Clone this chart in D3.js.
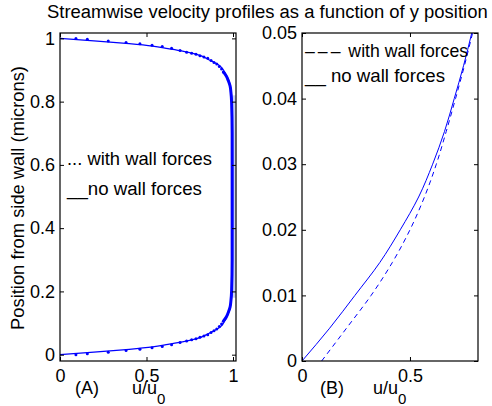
<!DOCTYPE html>
<html>
<head>
<meta charset="utf-8">
<script src="https://cdn.jsdelivr.net/npm/d3@7"></script>
<style>
  body { margin: 0; background: #fff; }
  svg text { font-family: "Liberation Sans", Arial, sans-serif; font-size: 18px; fill: #000; }
  .axis path { display: none; }
  .axis line { stroke: #000; stroke-width: 1; }
</style>
</head>
<body>
<script>
//==========================================================================//
//  DATA
//==========================================================================//

    // panel A : no wall forces, full channel width (position in microns)
    var noWallU = [0, 0.196, 0.400, 0.535, 0.624, 0.708, 0.786, 0.87, 0.925, 0.96, 0.98, 0.99, 0.995, 0.997, 0.998,
                   0.997, 0.995, 0.99, 0.98, 0.96, 0.925, 0.87, 0.786, 0.708, 0.624, 0.535, 0.400, 0.196, 0];
    var noWallY = [0, 0.0078, 0.0169, 0.0245, 0.0324, 0.0403, 0.05, 0.07, 0.087, 0.115, 0.14, 0.17, 0.21, 0.3, 0.5,
                   0.7, 0.79, 0.83, 0.86, 0.885, 0.913, 0.93, 0.95, 0.9597, 0.9676, 0.9755, 0.9831, 0.9922, 1];

    // panel A : with wall forces, sample points near each wall (drawn as dots)
    var wallDotU = [0.092, 0.158, 0.279, 0.382, 0.462, 0.532, 0.591, 0.645, 0.694, 0.732, 0.761, 0.786, 0.809,
                    0.832, 0.854, 0.873, 0.890, 0.906, 0.921, 0.934, 0.944,
                    0.944, 0.934, 0.921, 0.906, 0.890, 0.873, 0.854, 0.832, 0.809, 0.786, 0.761, 0.732, 0.694,
                    0.645, 0.591, 0.532, 0.462, 0.382, 0.279, 0.158, 0.092];
    var wallDotY = [0, 0.0028, 0.0079, 0.0133, 0.0173, 0.0215, 0.026, 0.031, 0.0385, 0.0435, 0.047, 0.050, 0.055,
                    0.059, 0.063, 0.070, 0.076, 0.081, 0.089, 0.097, 0.106,
                    0.894, 0.903, 0.911, 0.919, 0.924, 0.930, 0.937, 0.941, 0.945, 0.950, 0.953, 0.9565, 0.9615,
                    0.969, 0.974, 0.9785, 0.9827, 0.9867, 0.9921, 0.9972, 1];

    // panel A : with wall forces, middle of the channel where the dots merge
    var wallMidU = [0.944, 0.960, 0.973, 0.983, 0.988, 0.992, 0.995, 0.995, 0.992, 0.988, 0.983, 0.973, 0.960, 0.944];
    var wallMidY = [0.106, 0.118, 0.134, 0.150, 0.171, 0.203, 0.3, 0.7, 0.797, 0.829, 0.850, 0.866, 0.882, 0.894];
    var bandU = [1.008, 1.008];
    var bandY = [0.18, 0.82];

    // panel B : close-up near the wall
    var zoomY       = [0, 0.005, 0.01, 0.015, 0.02, 0.025, 0.03, 0.035, 0.04, 0.045, 0.05];
    var zoomNoWallU = [0, 0.128, 0.245, 0.36, 0.455, 0.54, 0.605, 0.66, 0.705, 0.748, 0.786];
    var zoomWallU   = [0.091, 0.206, 0.32, 0.418, 0.50, 0.567, 0.622, 0.668, 0.711, 0.752, 0.79];

    // ticks
    var ticksAx = [0, 0.5, 1];
    var ticksAy = [0, 0.2, 0.4, 0.6, 0.8, 1];
    var ticksBx = [0, 0.5];
    var ticksBy = [0, 0.01, 0.02, 0.03, 0.04, 0.05];

//==========================================================================//
//  SETUP
//==========================================================================//

    var W = 492, H = 406;
    var blue = "#0000ff";

    var svg = d3.select("body")
        .append("svg")
        .attr("width", W)
        .attr("height", H);

    // panel boxes
    var boxA = {left: 60, right: 236, top: 33, bottom: 361};
    var boxB = {left: 302, right: 478, top: 33, bottom: 361};

    var xA = d3.scaleLinear().domain([0, 1.0173]).range([boxA.left, boxA.right]);
    var yA = d3.scaleLinear().domain([-0.02, 1.017]).range([boxA.bottom, boxA.top]);
    var xB = d3.scaleLinear().domain([0, 0.815]).range([boxB.left, boxB.right]);
    var yB = d3.scaleLinear().domain([0, 0.05]).range([boxB.bottom, boxB.top]);

    function fmt(d) { return d === 0 ? "0" : String(d); }

    function drawAxes(box, x, y, xt, yt) {
        // bottom, with labels
        svg.append("g").attr("class", "axis")
            .attr("transform", "translate(0," + box.bottom + ")")
            .call(d3.axisBottom(x).tickValues(xt).tickFormat(fmt).tickSizeInner(-4).tickSizeOuter(0).tickPadding(8));
        // top, no labels
        svg.append("g").attr("class", "axis")
            .attr("transform", "translate(0," + box.top + ")")
            .call(d3.axisTop(x).tickValues(xt).tickFormat("").tickSizeInner(-4).tickSizeOuter(0));
        // left, with labels
        svg.append("g").attr("class", "axis")
            .attr("transform", "translate(" + box.left + ",0)")
            .call(d3.axisLeft(y).tickValues(yt).tickFormat(fmt).tickSizeInner(-4).tickSizeOuter(0).tickPadding(5));
        // right, no labels
        svg.append("g").attr("class", "axis")
            .attr("transform", "translate(" + box.right + ",0)")
            .call(d3.axisRight(y).tickValues(yt).tickFormat("").tickSizeInner(-4).tickSizeOuter(0));

        svg.append("rect")
            .attr("x", box.left).attr("y", box.top)
            .attr("width", box.right - box.left).attr("height", box.bottom - box.top)
            .attr("fill", "none").attr("stroke", "#000").attr("stroke-width", 1.2);

        svg.selectAll(".axis text").style("font-size", "18px");
    }

    function pairs(us, ys) {
        return us.map(function(u, i) { return [u, ys[i]]; });
    }

    // scale a text's font so that it spans the width seen in the figure
    function fitWidth(sel, target) {
        var w = sel.node().getComputedTextLength();
        if (w > 0) sel.style("font-size", (18 * target / w).toFixed(2) + "px");
        return sel;
    }

//==========================================================================//
//  PANEL A
//==========================================================================//

    var gA = svg.append("g");

    var lineA = d3.line()
        .x(function(d) { return xA(d[0]); })
        .y(function(d) { return yA(d[1]); })
        .curve(d3.curveMonotoneY);

    gA.append("path")
        .datum(pairs(bandU, bandY))
        .attr("d", lineA)
        .attr("fill", "none")
        .attr("stroke", "#c6cff4")
        .attr("stroke-width", 2.5);

    gA.append("path")
        .datum(pairs(wallMidU, wallMidY))
        .attr("d", lineA)
        .attr("fill", "none")
        .attr("stroke", blue)
        .attr("stroke-width", 3);

    gA.append("path")
        .datum(pairs(noWallU, noWallY))
        .attr("d", lineA)
        .attr("fill", "none")
        .attr("stroke", blue)
        .attr("stroke-width", 1.2);

    gA.selectAll("circle")
        .data(pairs(wallDotU, wallDotY))
        .join("circle")
            .attr("cx", function(d) { return xA(d[0]); })
            .attr("cy", function(d) { return yA(d[1]); })
            .attr("r", 1.5)
            .attr("fill", blue);

    drawAxes(boxA, xA, yA, ticksAx, ticksAy);

    fitWidth(svg.append("text").attr("x", 67).attr("y", 165).text("... with wall forces"), 145);
    fitWidth(svg.append("text").attr("x", 67).attr("y", 195).text("__no wall forces"), 135);

//==========================================================================//
//  PANEL B
//==========================================================================//

    var gB = svg.append("g");
    gB.append("clipPath").attr("id", "clipB")
        .append("rect")
        .attr("x", boxB.left).attr("y", boxB.top)
        .attr("width", boxB.right - boxB.left).attr("height", boxB.bottom - boxB.top);

    var lineB = d3.line()
        .x(function(d) { return xB(d[0]); })
        .y(function(d) { return yB(d[1]); })
        .curve(d3.curveMonotoneY);

    gB.append("path")
        .datum(pairs(zoomNoWallU, zoomY))
        .attr("d", lineB)
        .attr("clip-path", "url(#clipB)")
        .attr("fill", "none")
        .attr("stroke", blue)
        .attr("stroke-width", 1);

    gB.append("path")
        .datum(pairs(zoomWallU, zoomY))
        .attr("d", lineB)
        .attr("clip-path", "url(#clipB)")
        .attr("fill", "none")
        .attr("stroke", blue)
        .attr("stroke-width", 1)
        .attr("stroke-dasharray", "5,4");

    drawAxes(boxB, xB, yB, ticksBx, ticksBy);

    var leg1 = svg.append("text").attr("x", 305).attr("y", 57);
    leg1.append("tspan").attr("letter-spacing", "3px").text("–––");
    leg1.append("tspan").text(" with wall forces");
    fitWidth(leg1, 163);
    fitWidth(svg.append("text").attr("x", 305).attr("y", 82).text("__ no wall forces"), 140);

//==========================================================================//
//  TITLES AND LABELS
//==========================================================================//

    fitWidth(svg.append("text")
        .attr("x", 47).attr("y", 18)
        .text("Streamwise velocity profiles as a function of y position"), 441);

    fitWidth(svg.append("text")
        .attr("transform", "translate(24,198) rotate(-90)")
        .attr("text-anchor", "middle")
        .text("Position from side wall (microns)"), 264);

    function xLabel(tag, xTag, xU) {
        svg.append("text").attr("x", xTag).attr("y", 393.5).text(tag);
        var t = svg.append("text").attr("x", xU).attr("y", 393.5);
        t.append("tspan").text("u/u");
        t.append("tspan").attr("dy", 10).style("font-size", "15px").text("0");
    }
    xLabel("(A)", 75, 132);
    xLabel("(B)", 320, 373);
</script>
</body>
</html>
